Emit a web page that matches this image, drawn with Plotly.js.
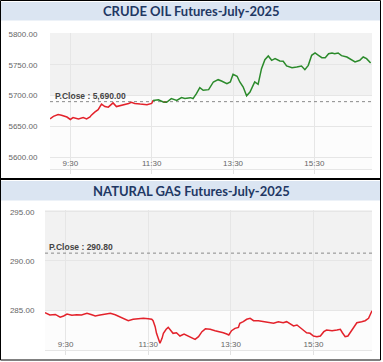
<!DOCTYPE html>
<html>
<head>
<meta charset="utf-8">
<script src="https://cdn.plot.ly/plotly-3.0.1.min.js"></script>
<style>html,body{margin:0;padding:0;background:#fff;}#chart{width:383px;height:362px;}</style>
</head>
<body>
<div id="chart"></div>
<script>
const oilTitle = "CRUDE OIL Futures-July-2025";
const gasTitle = "NATURAL GAS Futures-July-2025";
const oilPClose = 5690.00;
const gasPClose = 290.80;
const oilPCloseLabel = "P.Close : 5,690.00";
const gasPCloseLabel = "P.Close : 290.80";
const tickTimes = ["09:30", "11:30", "13:30", "15:30"];
const tickLabels = ["9:30", "11:30", "13:30", "15:30"];
const oilTicks = [5600, 5650, 5700, 5750, 5800];
const gasTicks = [285, 290, 295];

const oilTime = ["09:00","09:05","09:12","09:17","09:25","09:30","09:34","09:42","09:49","09:54","09:59","10:01","10:06","10:11","10:16","10:21","10:26","10:33","10:38","10:46","10:56","11:00","11:05","11:13","11:23","11:30","11:32","11:40","11:47","11:52","11:59","12:07","12:14","12:19","12:27","12:31","12:36","12:41","12:46","12:54","13:01","13:08","13:13","13:21","13:26","13:30","13:36","13:40","13:45","13:50","13:55","14:00","14:02","14:07","14:12","14:17","14:22","14:27","14:32","14:39","14:44","14:49","14:57","15:04","15:11","15:16","15:21","15:26","15:31","15:36","15:41","15:46","15:51","15:56","16:00","16:05","16:10","16:18","16:25","16:30","16:37","16:42","16:47","16:53"];
const oilPrice = [5662,5666,5669,5668,5665,5661,5664,5662,5664,5662,5665,5668,5673,5677,5686,5682,5681,5688,5682,5684,5687,5689,5687,5686,5685,5687,5692,5693,5689.5,5689,5695,5692,5696.5,5695,5696.5,5695,5703,5712.7,5708.4,5709.5,5722,5725.7,5723.6,5719.2,5722,5734.4,5731.2,5722,5713.8,5699.5,5705.7,5716.5,5722,5718.2,5743.6,5758.3,5764.2,5757.2,5759.9,5756.1,5755.6,5748,5745.3,5746.3,5748,5742,5749,5765.3,5769.1,5765.3,5761.5,5761.5,5768,5769.1,5768,5769.1,5764.8,5762.6,5757.2,5754.5,5757.2,5762.6,5759.9,5752.8];

const gasTime = ["09:00","09:07","09:15","09:22","09:27","09:32","09:39","09:46","09:53","10:01","10:08","10:13","10:20","10:27","10:35","10:42","10:49","10:56","11:01","11:08","11:16","11:23","11:30","11:35","11:37","11:40","11:42","11:45","11:47","11:50","11:52","11:56","11:59","12:03","12:06","12:11","12:16","12:22","12:28","12:33","12:38","12:43","12:48","12:53","13:00","13:07","13:14","13:19","13:24","13:27","13:31","13:36","13:41","13:43","13:48","13:53","13:58","14:03","14:10","14:17","14:25","14:32","14:39","14:46","14:51","14:56","15:01","15:06","15:11","15:15","15:20","15:25","15:30","15:35","15:40","15:45","15:49","15:57","16:04","16:09","16:12","16:16","16:20","16:23","16:28","16:33","16:40","16:45","16:50","16:52","16:55"];
const gasPrice = [284.72,284.49,284.55,284.26,284.39,284.59,284.46,284.52,284.49,284.66,284.52,284.39,284.49,284.59,284.66,284.52,284.32,284.11,283.91,284.05,284.11,284.15,284.11,284.05,283.91,283.30,282.62,281.94,281.60,282.11,282.62,283.03,283.23,282.89,282.62,282.68,282.35,282.55,282.35,282.21,282.01,282.28,282.79,283.08,283.03,282.89,282.79,282.68,282.55,282.45,282.89,283.13,283.23,283.64,283.81,284.05,284.15,283.91,283.91,283.81,283.70,283.64,283.81,283.70,283.81,283.57,283.37,283.47,283.23,282.96,282.68,282.62,282.35,282.28,282.35,282.79,282.96,282.89,282.96,283.03,282.68,282.28,282.35,282.68,283.23,283.70,283.81,283.91,284.15,284.49,284.93];

const DAY = "2025-06-20 ";
const W = 383, H = 362;
const px = v => v / W;
const py = v => 1 - v / H;
const RED = "#e3222b", GREEN = "#2b8a2b";
const xRange = [DAY + "09:00", DAY + "16:55"];

function splitByClose(times, vals, pc, xa, ya) {
  const x = times.map(t => DAY + t);
  const up = [], dn = [];
  const segUp = [];
  for (let i = 0; i < vals.length - 1; i++) segUp.push((vals[i] + vals[i + 1]) / 2 >= pc);
  for (let i = 0; i < vals.length; i++) {
    const prevUp = i > 0 ? segUp[i - 1] : null;
    const nextUp = i < segUp.length ? segUp[i] : null;
    up.push(prevUp === true || nextUp === true ? vals[i] : null);
    dn.push(prevUp === false || nextUp === false ? vals[i] : null);
  }
  const base = {type: "scatter", mode: "lines", x: x, xaxis: xa, yaxis: ya, hoverinfo: "skip", connectgaps: false, showlegend: false};
  return [
    Object.assign({}, base, {y: dn, line: {color: RED, width: 1.5}}),
    Object.assign({}, base, {y: up, line: {color: GREEN, width: 1.5}})
  ];
}

const traces = [].concat(
  splitByClose(oilTime, oilPrice, oilPClose, "x", "y"),
  splitByClose(gasTime, gasPrice, gasPClose, "x2", "y2")
);

const tickFont = {family: "Liberation Sans, Arial, sans-serif", size: 8, color: "#666"};
function xAxis(domain, anchor) {
  return {
    domain: domain, anchor: anchor, type: "date", range: xRange,
    tickvals: tickTimes.map(t => DAY + t), ticktext: tickLabels,
    ticklabelposition: "inside", tickfont: tickFont,
    ticks: "outside", ticklen: 4, tickcolor: "#e2e2e2",
    showgrid: true, gridcolor: "#e6e6e6", gridwidth: 1,
    showline: true, linecolor: "#e6e6e6", linewidth: 1,
    zeroline: false, fixedrange: true
  };
}
function yAxis(domain, anchor, range, ticks, standoff) {
  return {
    domain: domain, anchor: anchor, range: range,
    tickvals: ticks, ticktext: ticks.map(v => v.toFixed(2)),
    tickfont: tickFont, ticks: "outside", ticklen: standoff, tickcolor: "rgba(0,0,0,0)",
    showgrid: true, gridcolor: "#e6e6e6", gridwidth: 1,
    showline: false, zeroline: false, fixedrange: true
  };
}

const oilRange = [5580.5, 5801.6];
const gasRange = [280.92, 295.2];

const shapes = [
  {type: "rect", xref: "paper", yref: "paper", x0: px(1), x1: px(380), y0: py(2), y1: py(20.5), fillcolor: "#dbe5f2", line: {width: 0}, layer: "below"},
  {type: "rect", xref: "paper", yref: "paper", x0: px(1), x1: px(380), y0: py(181), y1: py(200.5), fillcolor: "#dbe5f2", line: {width: 0}, layer: "below"},
  {type: "rect", xref: "x", yref: "y", x0: xRange[0], x1: xRange[1], y0: 5700, y1: oilRange[1], fillcolor: "#f2f2f2", line: {width: 0}, layer: "below"},
  {type: "rect", xref: "x2", yref: "y2", x0: xRange[0], x1: xRange[1], y0: 285, y1: gasRange[1], fillcolor: "#f2f2f2", line: {width: 0}, layer: "below"},
  {type: "line", xref: "x", yref: "y", x0: xRange[0], x1: xRange[1], y0: oilPClose, y1: oilPClose, line: {color: "#8a8a8a", width: 1, dash: "dot"}, layer: "between"},
  {type: "line", xref: "x2", yref: "y2", x0: xRange[0], x1: xRange[1], y0: gasPClose, y1: gasPClose, line: {color: "#8a8a8a", width: 1, dash: "dot"}, layer: "between"},
  {type: "line", xref: "paper", yref: "paper", x0: px(0), x1: px(381), y0: py(179), y1: py(179), line: {color: "#000", width: 2}},
  {type: "rect", xref: "paper", yref: "paper", x0: px(0.5), x1: px(380.5), y0: py(0.5), y1: py(360), line: {color: "#000", width: 1}}
];

const titleFont = {family: "Lato, 'Open Sans', sans-serif", size: 13, color: "#1f3864", weight: "bold"};
const pcFont = {family: "Liberation Sans, Arial, sans-serif", size: 8.5, color: "#444", weight: "bold"};
const annotations = [
  {xref: "paper", yref: "paper", x: 0.5, y: py(11.3), text: "<b>" + oilTitle + "</b>", showarrow: false, font: titleFont, xanchor: "center", yanchor: "middle"},
  {xref: "paper", yref: "paper", x: 0.5, y: py(191), text: "<b>" + gasTitle + "</b>", showarrow: false, font: titleFont, xanchor: "center", yanchor: "middle"},
  {xref: "paper", yref: "y", x: px(53), y: oilPClose, text: "<b>" + oilPCloseLabel + "</b>", showarrow: false, font: pcFont, xanchor: "left", yanchor: "bottom", yshift: -1},
  {xref: "paper", yref: "y2", x: px(47), y: gasPClose, text: "<b>" + gasPCloseLabel + "</b>", showarrow: false, font: pcFont, xanchor: "left", yanchor: "bottom", yshift: -1}
];

const layout = {
  width: W, height: H,
  margin: {l: 0, r: 0, t: 0, b: 0},
  paper_bgcolor: "#ffffff", plot_bgcolor: "#fcfcfc",
  showlegend: false,
  xaxis: xAxis([px(50), px(372)], "y"),
  yaxis: yAxis([py(169), py(33)], "x", oilRange, oilTicks, 10),
  xaxis2: xAxis([px(45), px(372)], "y2"),
  yaxis2: yAxis([py(350), py(210)], "x2", gasRange, gasTicks, 8),
  shapes: shapes,
  annotations: annotations
};

Plotly.newPlot("chart", traces, layout, {staticPlot: true, displayModeBar: false});
</script>
</body>
</html>
